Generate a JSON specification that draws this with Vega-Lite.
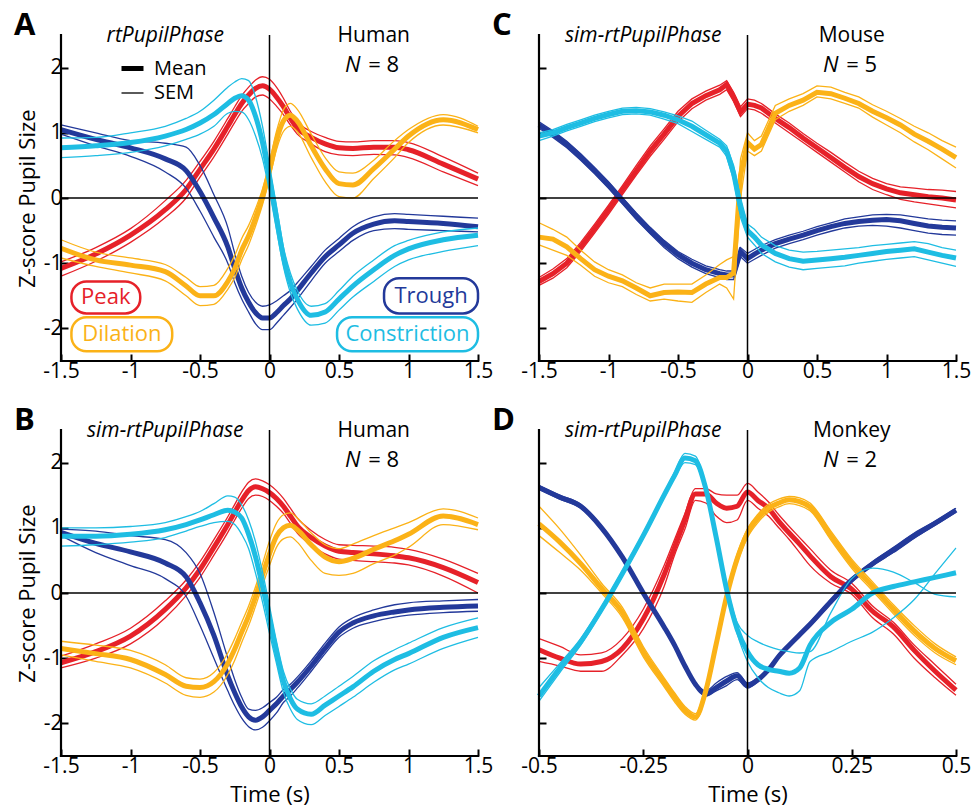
{
"$schema": "https://vega.github.io/schema/vega-lite/v6.json",
"background": "white",
"padding": {"top": 9, "left": 14, "right": 5, "bottom": 5},
"config": {
 "font": "Open Sans",
 "view": {"stroke": null},
 "axis": {"domain": false, "grid": false, "tickColor": "black", "tickWidth": 2, "tickSize": -7, "labelFontSize": 21, "labelColor": "black", "labelPadding": 6, "titleFontSize": 22, "titleFontWeight": "normal", "titleColor": "black", "labelFlush": false, "labelOverlap": false},
 "title": {"fontSize": 31, "fontWeight": "bold", "anchor": "start", "color": "black", "frame": "group"},
 "text": {"color": "black", "fontSize": 22}
},
"data": {"values": [
{"p":"A","ph":"Peak","t":-1.5,"m":-1.08,"hi":-0.98,"lo":-1.2},
{"p":"A","ph":"Peak","t":-1.25,"m":-0.86,"hi":-0.76,"lo":-0.97},
{"p":"A","ph":"Peak","t":-1.0,"m":-0.57,"hi":-0.47,"lo":-0.68},
{"p":"A","ph":"Peak","t":-0.75,"m":-0.18,"hi":-0.04,"lo":-0.3},
{"p":"A","ph":"Peak","t":-0.6,"m":0.13,"hi":0.27,"lo":0.0},
{"p":"A","ph":"Peak","t":-0.5,"m":0.44,"hi":0.56,"lo":0.32},
{"p":"A","ph":"Peak","t":-0.4,"m":0.75,"hi":0.87,"lo":0.63},
{"p":"A","ph":"Peak","t":-0.3,"m":1.1,"hi":1.22,"lo":0.98},
{"p":"A","ph":"Peak","t":-0.25,"m":1.28,"hi":1.4,"lo":1.16},
{"p":"A","ph":"Peak","t":-0.2,"m":1.45,"hi":1.57,"lo":1.33},
{"p":"A","ph":"Peak","t":-0.15,"m":1.58,"hi":1.7,"lo":1.45},
{"p":"A","ph":"Peak","t":-0.1,"m":1.68,"hi":1.81,"lo":1.55},
{"p":"A","ph":"Peak","t":-0.05,"m":1.72,"hi":1.86,"lo":1.58},
{"p":"A","ph":"Peak","t":0,"m":1.67,"hi":1.82,"lo":1.52},
{"p":"A","ph":"Peak","t":0.05,"m":1.55,"hi":1.7,"lo":1.41},
{"p":"A","ph":"Peak","t":0.1,"m":1.4,"hi":1.53,"lo":1.28},
{"p":"A","ph":"Peak","t":0.15,"m":1.22,"hi":1.33,"lo":1.12},
{"p":"A","ph":"Peak","t":0.2,"m":1.07,"hi":1.17,"lo":0.98},
{"p":"A","ph":"Peak","t":0.3,"m":0.93,"hi":1.02,"lo":0.83},
{"p":"A","ph":"Peak","t":0.4,"m":0.83,"hi":0.93,"lo":0.71},
{"p":"A","ph":"Peak","t":0.5,"m":0.77,"hi":0.87,"lo":0.66},
{"p":"A","ph":"Peak","t":0.6,"m":0.76,"hi":0.86,"lo":0.65},
{"p":"A","ph":"Peak","t":0.75,"m":0.78,"hi":0.88,"lo":0.67},
{"p":"A","ph":"Peak","t":0.9,"m":0.78,"hi":0.88,"lo":0.66},
{"p":"A","ph":"Peak","t":1.0,"m":0.74,"hi":0.85,"lo":0.62},
{"p":"A","ph":"Peak","t":1.25,"m":0.52,"hi":0.63,"lo":0.4},
{"p":"A","ph":"Peak","t":1.5,"m":0.29,"hi":0.38,"lo":0.19},
{"p":"A","ph":"Trough","t":-1.5,"m":1.05,"hi":1.12,"lo":0.98},
{"p":"A","ph":"Trough","t":-1.25,"m":0.9,"hi":1.0,"lo":0.8},
{"p":"A","ph":"Trough","t":-1.0,"m":0.77,"hi":0.88,"lo":0.64},
{"p":"A","ph":"Trough","t":-0.75,"m":0.6,"hi":0.84,"lo":0.4},
{"p":"A","ph":"Trough","t":-0.6,"m":0.42,"hi":0.78,"lo":0.15},
{"p":"A","ph":"Trough","t":-0.5,"m":0.1,"hi":0.5,"lo":-0.2},
{"p":"A","ph":"Trough","t":-0.4,"m":-0.3,"hi":0.05,"lo":-0.6},
{"p":"A","ph":"Trough","t":-0.3,"m":-0.75,"hi":-0.45,"lo":-1.0},
{"p":"A","ph":"Trough","t":-0.25,"m":-1.08,"hi":-0.85,"lo":-1.3},
{"p":"A","ph":"Trough","t":-0.2,"m":-1.38,"hi":-1.2,"lo":-1.55},
{"p":"A","ph":"Trough","t":-0.15,"m":-1.6,"hi":-1.45,"lo":-1.75},
{"p":"A","ph":"Trough","t":-0.1,"m":-1.76,"hi":-1.6,"lo":-1.93},
{"p":"A","ph":"Trough","t":-0.05,"m":-1.84,"hi":-1.66,"lo":-2.02},
{"p":"A","ph":"Trough","t":0,"m":-1.84,"hi":-1.64,"lo":-2.02},
{"p":"A","ph":"Trough","t":0.05,"m":-1.76,"hi":-1.58,"lo":-1.92},
{"p":"A","ph":"Trough","t":0.1,"m":-1.65,"hi":-1.5,"lo":-1.8},
{"p":"A","ph":"Trough","t":0.15,"m":-1.55,"hi":-1.42,"lo":-1.68},
{"p":"A","ph":"Trough","t":0.2,"m":-1.42,"hi":-1.3,"lo":-1.55},
{"p":"A","ph":"Trough","t":0.3,"m":-1.15,"hi":-1.05,"lo":-1.27},
{"p":"A","ph":"Trough","t":0.4,"m":-0.9,"hi":-0.8,"lo":-1.0},
{"p":"A","ph":"Trough","t":0.5,"m":-0.72,"hi":-0.62,"lo":-0.82},
{"p":"A","ph":"Trough","t":0.6,"m":-0.54,"hi":-0.44,"lo":-0.65},
{"p":"A","ph":"Trough","t":0.75,"m":-0.4,"hi":-0.29,"lo":-0.5},
{"p":"A","ph":"Trough","t":0.9,"m":-0.35,"hi":-0.24,"lo":-0.47},
{"p":"A","ph":"Trough","t":1.0,"m":-0.36,"hi":-0.25,"lo":-0.48},
{"p":"A","ph":"Trough","t":1.25,"m":-0.39,"hi":-0.28,"lo":-0.5},
{"p":"A","ph":"Trough","t":1.5,"m":-0.44,"hi":-0.31,"lo":-0.52},
{"p":"A","ph":"Dilation","t":-1.5,"m":-0.77,"hi":-0.64,"lo":-0.92},
{"p":"A","ph":"Dilation","t":-1.25,"m":-0.95,"hi":-0.83,"lo":-1.05},
{"p":"A","ph":"Dilation","t":-1.0,"m":-1.03,"hi":-0.92,"lo":-1.15},
{"p":"A","ph":"Dilation","t":-0.75,"m":-1.13,"hi":-1.02,"lo":-1.27},
{"p":"A","ph":"Dilation","t":-0.6,"m":-1.35,"hi":-1.22,"lo":-1.5},
{"p":"A","ph":"Dilation","t":-0.5,"m":-1.5,"hi":-1.36,"lo":-1.65},
{"p":"A","ph":"Dilation","t":-0.4,"m":-1.5,"hi":-1.34,"lo":-1.63},
{"p":"A","ph":"Dilation","t":-0.3,"m":-1.28,"hi":-1.08,"lo":-1.4},
{"p":"A","ph":"Dilation","t":-0.25,"m":-1.08,"hi":-0.88,"lo":-1.22},
{"p":"A","ph":"Dilation","t":-0.2,"m":-0.8,"hi":-0.62,"lo":-0.95},
{"p":"A","ph":"Dilation","t":-0.15,"m":-0.58,"hi":-0.42,"lo":-0.72},
{"p":"A","ph":"Dilation","t":-0.1,"m":-0.3,"hi":-0.16,"lo":-0.43},
{"p":"A","ph":"Dilation","t":-0.05,"m":0.02,"hi":0.14,"lo":-0.1},
{"p":"A","ph":"Dilation","t":0,"m":0.42,"hi":0.55,"lo":0.3},
{"p":"A","ph":"Dilation","t":0.05,"m":0.88,"hi":1.02,"lo":0.74},
{"p":"A","ph":"Dilation","t":0.1,"m":1.18,"hi":1.35,"lo":1.02},
{"p":"A","ph":"Dilation","t":0.15,"m":1.27,"hi":1.45,"lo":1.1},
{"p":"A","ph":"Dilation","t":0.2,"m":1.18,"hi":1.36,"lo":1.02},
{"p":"A","ph":"Dilation","t":0.3,"m":0.8,"hi":0.98,"lo":0.62},
{"p":"A","ph":"Dilation","t":0.4,"m":0.45,"hi":0.62,"lo":0.25},
{"p":"A","ph":"Dilation","t":0.5,"m":0.22,"hi":0.4,"lo":0.02},
{"p":"A","ph":"Dilation","t":0.6,"m":0.2,"hi":0.38,"lo":0.0},
{"p":"A","ph":"Dilation","t":0.75,"m":0.45,"hi":0.58,"lo":0.3},
{"p":"A","ph":"Dilation","t":0.9,"m":0.75,"hi":0.88,"lo":0.62},
{"p":"A","ph":"Dilation","t":1.0,"m":0.95,"hi":1.05,"lo":0.85},
{"p":"A","ph":"Dilation","t":1.25,"m":1.2,"hi":1.28,"lo":1.12},
{"p":"A","ph":"Dilation","t":1.5,"m":1.05,"hi":1.1,"lo":1.0},
{"p":"A","ph":"Constriction","t":-1.5,"m":0.77,"hi":0.92,"lo":0.62},
{"p":"A","ph":"Constriction","t":-1.25,"m":0.8,"hi":0.93,"lo":0.65},
{"p":"A","ph":"Constriction","t":-1.0,"m":0.85,"hi":1.0,"lo":0.7},
{"p":"A","ph":"Constriction","t":-0.75,"m":0.95,"hi":1.1,"lo":0.8},
{"p":"A","ph":"Constriction","t":-0.6,"m":1.05,"hi":1.22,"lo":0.9},
{"p":"A","ph":"Constriction","t":-0.5,"m":1.15,"hi":1.33,"lo":0.98},
{"p":"A","ph":"Constriction","t":-0.4,"m":1.28,"hi":1.5,"lo":1.1},
{"p":"A","ph":"Constriction","t":-0.3,"m":1.45,"hi":1.7,"lo":1.3},
{"p":"A","ph":"Constriction","t":-0.25,"m":1.53,"hi":1.78,"lo":1.33},
{"p":"A","ph":"Constriction","t":-0.2,"m":1.57,"hi":1.83,"lo":1.32},
{"p":"A","ph":"Constriction","t":-0.15,"m":1.5,"hi":1.8,"lo":1.2},
{"p":"A","ph":"Constriction","t":-0.1,"m":1.25,"hi":1.55,"lo":0.95},
{"p":"A","ph":"Constriction","t":-0.05,"m":0.85,"hi":1.1,"lo":0.6},
{"p":"A","ph":"Constriction","t":0,"m":0.3,"hi":0.5,"lo":0.1},
{"p":"A","ph":"Constriction","t":0.05,"m":-0.3,"hi":-0.12,"lo":-0.48},
{"p":"A","ph":"Constriction","t":0.1,"m":-0.9,"hi":-0.75,"lo":-1.05},
{"p":"A","ph":"Constriction","t":0.15,"m":-1.3,"hi":-1.15,"lo":-1.45},
{"p":"A","ph":"Constriction","t":0.2,"m":-1.55,"hi":-1.42,"lo":-1.7},
{"p":"A","ph":"Constriction","t":0.3,"m":-1.8,"hi":-1.66,"lo":-1.95},
{"p":"A","ph":"Constriction","t":0.4,"m":-1.75,"hi":-1.62,"lo":-1.92},
{"p":"A","ph":"Constriction","t":0.5,"m":-1.55,"hi":-1.42,"lo":-1.72},
{"p":"A","ph":"Constriction","t":0.6,"m":-1.35,"hi":-1.2,"lo":-1.52},
{"p":"A","ph":"Constriction","t":0.75,"m":-1.1,"hi":-0.95,"lo":-1.28},
{"p":"A","ph":"Constriction","t":0.9,"m":-0.88,"hi":-0.73,"lo":-1.05},
{"p":"A","ph":"Constriction","t":1.0,"m":-0.78,"hi":-0.65,"lo":-0.95},
{"p":"A","ph":"Constriction","t":1.25,"m":-0.64,"hi":-0.52,"lo":-0.82},
{"p":"A","ph":"Constriction","t":1.5,"m":-0.57,"hi":-0.46,"lo":-0.73},
{"p":"B","ph":"Peak","t":-1.5,"m":-1.07,"hi":-0.97,"lo":-1.15},
{"p":"B","ph":"Peak","t":-1.25,"m":-0.9,"hi":-0.78,"lo":-1.0},
{"p":"B","ph":"Peak","t":-1.0,"m":-0.66,"hi":-0.54,"lo":-0.78},
{"p":"B","ph":"Peak","t":-0.75,"m":-0.25,"hi":-0.12,"lo":-0.38},
{"p":"B","ph":"Peak","t":-0.6,"m":0.08,"hi":0.2,"lo":-0.04},
{"p":"B","ph":"Peak","t":-0.5,"m":0.36,"hi":0.48,"lo":0.24},
{"p":"B","ph":"Peak","t":-0.4,"m":0.7,"hi":0.82,"lo":0.58},
{"p":"B","ph":"Peak","t":-0.3,"m":1.05,"hi":1.17,"lo":0.93},
{"p":"B","ph":"Peak","t":-0.25,"m":1.24,"hi":1.36,"lo":1.12},
{"p":"B","ph":"Peak","t":-0.2,"m":1.42,"hi":1.55,"lo":1.3},
{"p":"B","ph":"Peak","t":-0.15,"m":1.57,"hi":1.7,"lo":1.45},
{"p":"B","ph":"Peak","t":-0.1,"m":1.63,"hi":1.75,"lo":1.5},
{"p":"B","ph":"Peak","t":-0.05,"m":1.6,"hi":1.72,"lo":1.48},
{"p":"B","ph":"Peak","t":0,"m":1.54,"hi":1.66,"lo":1.42},
{"p":"B","ph":"Peak","t":0.05,"m":1.45,"hi":1.57,"lo":1.33},
{"p":"B","ph":"Peak","t":0.1,"m":1.33,"hi":1.45,"lo":1.22},
{"p":"B","ph":"Peak","t":0.15,"m":1.18,"hi":1.3,"lo":1.07},
{"p":"B","ph":"Peak","t":0.2,"m":1.03,"hi":1.15,"lo":0.92},
{"p":"B","ph":"Peak","t":0.3,"m":0.85,"hi":0.96,"lo":0.74},
{"p":"B","ph":"Peak","t":0.4,"m":0.72,"hi":0.82,"lo":0.6},
{"p":"B","ph":"Peak","t":0.5,"m":0.64,"hi":0.74,"lo":0.52},
{"p":"B","ph":"Peak","t":0.6,"m":0.62,"hi":0.73,"lo":0.5},
{"p":"B","ph":"Peak","t":0.75,"m":0.6,"hi":0.72,"lo":0.48},
{"p":"B","ph":"Peak","t":0.9,"m":0.57,"hi":0.7,"lo":0.46},
{"p":"B","ph":"Peak","t":1.0,"m":0.54,"hi":0.67,"lo":0.43},
{"p":"B","ph":"Peak","t":1.25,"m":0.39,"hi":0.52,"lo":0.26},
{"p":"B","ph":"Peak","t":1.5,"m":0.16,"hi":0.3,"lo":0.0},
{"p":"B","ph":"Trough","t":-1.5,"m":0.93,"hi":0.98,"lo":0.88},
{"p":"B","ph":"Trough","t":-1.25,"m":0.76,"hi":0.95,"lo":0.62},
{"p":"B","ph":"Trough","t":-1.0,"m":0.63,"hi":0.88,"lo":0.42},
{"p":"B","ph":"Trough","t":-0.75,"m":0.46,"hi":0.82,"lo":0.22},
{"p":"B","ph":"Trough","t":-0.6,"m":0.25,"hi":0.62,"lo":-0.05},
{"p":"B","ph":"Trough","t":-0.5,"m":-0.15,"hi":0.3,"lo":-0.5},
{"p":"B","ph":"Trough","t":-0.4,"m":-0.65,"hi":-0.3,"lo":-1.0},
{"p":"B","ph":"Trough","t":-0.3,"m":-1.27,"hi":-1.0,"lo":-1.5},
{"p":"B","ph":"Trough","t":-0.25,"m":-1.53,"hi":-1.33,"lo":-1.73},
{"p":"B","ph":"Trough","t":-0.2,"m":-1.75,"hi":-1.6,"lo":-1.92},
{"p":"B","ph":"Trough","t":-0.15,"m":-1.9,"hi":-1.78,"lo":-2.05},
{"p":"B","ph":"Trough","t":-0.1,"m":-1.95,"hi":-1.8,"lo":-2.1},
{"p":"B","ph":"Trough","t":-0.05,"m":-1.9,"hi":-1.76,"lo":-2.06},
{"p":"B","ph":"Trough","t":0,"m":-1.8,"hi":-1.68,"lo":-1.96},
{"p":"B","ph":"Trough","t":0.05,"m":-1.7,"hi":-1.6,"lo":-1.84},
{"p":"B","ph":"Trough","t":0.1,"m":-1.58,"hi":-1.48,"lo":-1.68},
{"p":"B","ph":"Trough","t":0.15,"m":-1.48,"hi":-1.4,"lo":-1.58},
{"p":"B","ph":"Trough","t":0.2,"m":-1.37,"hi":-1.29,"lo":-1.46},
{"p":"B","ph":"Trough","t":0.3,"m":-1.12,"hi":-1.04,"lo":-1.2},
{"p":"B","ph":"Trough","t":0.4,"m":-0.85,"hi":-0.77,"lo":-0.93},
{"p":"B","ph":"Trough","t":0.5,"m":-0.6,"hi":-0.52,"lo":-0.68},
{"p":"B","ph":"Trough","t":0.6,"m":-0.46,"hi":-0.38,"lo":-0.54},
{"p":"B","ph":"Trough","t":0.75,"m":-0.35,"hi":-0.26,"lo":-0.44},
{"p":"B","ph":"Trough","t":0.9,"m":-0.29,"hi":-0.18,"lo":-0.37},
{"p":"B","ph":"Trough","t":1.0,"m":-0.26,"hi":-0.15,"lo":-0.34},
{"p":"B","ph":"Trough","t":1.25,"m":-0.22,"hi":-0.12,"lo":-0.3},
{"p":"B","ph":"Trough","t":1.5,"m":-0.2,"hi":-0.1,"lo":-0.28},
{"p":"B","ph":"Dilation","t":-1.5,"m":-0.85,"hi":-0.74,"lo":-0.95},
{"p":"B","ph":"Dilation","t":-1.25,"m":-0.93,"hi":-0.8,"lo":-1.05},
{"p":"B","ph":"Dilation","t":-1.0,"m":-1.02,"hi":-0.88,"lo":-1.15},
{"p":"B","ph":"Dilation","t":-0.75,"m":-1.25,"hi":-1.1,"lo":-1.38},
{"p":"B","ph":"Dilation","t":-0.6,"m":-1.43,"hi":-1.3,"lo":-1.57},
{"p":"B","ph":"Dilation","t":-0.5,"m":-1.45,"hi":-1.32,"lo":-1.6},
{"p":"B","ph":"Dilation","t":-0.4,"m":-1.36,"hi":-1.22,"lo":-1.52},
{"p":"B","ph":"Dilation","t":-0.3,"m":-1.08,"hi":-0.92,"lo":-1.25},
{"p":"B","ph":"Dilation","t":-0.25,"m":-0.86,"hi":-0.7,"lo":-1.03},
{"p":"B","ph":"Dilation","t":-0.2,"m":-0.6,"hi":-0.45,"lo":-0.76},
{"p":"B","ph":"Dilation","t":-0.15,"m":-0.35,"hi":-0.2,"lo":-0.5},
{"p":"B","ph":"Dilation","t":-0.1,"m":-0.05,"hi":0.1,"lo":-0.2},
{"p":"B","ph":"Dilation","t":-0.05,"m":0.28,"hi":0.45,"lo":0.12},
{"p":"B","ph":"Dilation","t":0,"m":0.6,"hi":0.8,"lo":0.42},
{"p":"B","ph":"Dilation","t":0.05,"m":0.87,"hi":1.07,"lo":0.7},
{"p":"B","ph":"Dilation","t":0.1,"m":1.0,"hi":1.2,"lo":0.83},
{"p":"B","ph":"Dilation","t":0.15,"m":1.04,"hi":1.23,"lo":0.86},
{"p":"B","ph":"Dilation","t":0.2,"m":0.97,"hi":1.15,"lo":0.78},
{"p":"B","ph":"Dilation","t":0.3,"m":0.74,"hi":0.92,"lo":0.5},
{"p":"B","ph":"Dilation","t":0.4,"m":0.55,"hi":0.74,"lo":0.3},
{"p":"B","ph":"Dilation","t":0.5,"m":0.48,"hi":0.68,"lo":0.27},
{"p":"B","ph":"Dilation","t":0.6,"m":0.53,"hi":0.75,"lo":0.3},
{"p":"B","ph":"Dilation","t":0.75,"m":0.67,"hi":0.88,"lo":0.45},
{"p":"B","ph":"Dilation","t":0.9,"m":0.8,"hi":1.0,"lo":0.58},
{"p":"B","ph":"Dilation","t":1.0,"m":0.9,"hi":1.08,"lo":0.7},
{"p":"B","ph":"Dilation","t":1.25,"m":1.18,"hi":1.29,"lo":1.05},
{"p":"B","ph":"Dilation","t":1.5,"m":1.05,"hi":1.15,"lo":0.97},
{"p":"B","ph":"Constriction","t":-1.5,"m":0.87,"hi":1.0,"lo":0.72},
{"p":"B","ph":"Constriction","t":-1.25,"m":0.87,"hi":1.0,"lo":0.74},
{"p":"B","ph":"Constriction","t":-1.0,"m":0.9,"hi":1.02,"lo":0.78},
{"p":"B","ph":"Constriction","t":-0.75,"m":0.97,"hi":1.08,"lo":0.85},
{"p":"B","ph":"Constriction","t":-0.6,"m":1.05,"hi":1.17,"lo":0.95},
{"p":"B","ph":"Constriction","t":-0.5,"m":1.12,"hi":1.25,"lo":1.02},
{"p":"B","ph":"Constriction","t":-0.4,"m":1.2,"hi":1.37,"lo":1.08},
{"p":"B","ph":"Constriction","t":-0.3,"m":1.27,"hi":1.49,"lo":1.1},
{"p":"B","ph":"Constriction","t":-0.25,"m":1.24,"hi":1.47,"lo":1.05},
{"p":"B","ph":"Constriction","t":-0.2,"m":1.15,"hi":1.35,"lo":0.9},
{"p":"B","ph":"Constriction","t":-0.15,"m":0.9,"hi":1.12,"lo":0.68},
{"p":"B","ph":"Constriction","t":-0.1,"m":0.55,"hi":0.78,"lo":0.3},
{"p":"B","ph":"Constriction","t":-0.05,"m":0.1,"hi":0.32,"lo":-0.14},
{"p":"B","ph":"Constriction","t":0,"m":-0.4,"hi":-0.2,"lo":-0.62},
{"p":"B","ph":"Constriction","t":0.05,"m":-0.9,"hi":-0.74,"lo":-1.08},
{"p":"B","ph":"Constriction","t":0.1,"m":-1.35,"hi":-1.2,"lo":-1.52},
{"p":"B","ph":"Constriction","t":0.15,"m":-1.62,"hi":-1.47,"lo":-1.78},
{"p":"B","ph":"Constriction","t":0.2,"m":-1.78,"hi":-1.63,"lo":-1.94},
{"p":"B","ph":"Constriction","t":0.3,"m":-1.86,"hi":-1.7,"lo":-2.02},
{"p":"B","ph":"Constriction","t":0.4,"m":-1.72,"hi":-1.58,"lo":-1.88},
{"p":"B","ph":"Constriction","t":0.5,"m":-1.58,"hi":-1.43,"lo":-1.74},
{"p":"B","ph":"Constriction","t":0.6,"m":-1.44,"hi":-1.28,"lo":-1.6},
{"p":"B","ph":"Constriction","t":0.75,"m":-1.2,"hi":-1.04,"lo":-1.37},
{"p":"B","ph":"Constriction","t":0.9,"m":-1.02,"hi":-0.87,"lo":-1.18},
{"p":"B","ph":"Constriction","t":1.0,"m":-0.93,"hi":-0.77,"lo":-1.09},
{"p":"B","ph":"Constriction","t":1.25,"m":-0.68,"hi":-0.53,"lo":-0.85},
{"p":"B","ph":"Constriction","t":1.5,"m":-0.53,"hi":-0.38,"lo":-0.68},
{"p":"C","ph":"Peak","t":-1.5,"m":-1.28,"hi":-1.22,"lo":-1.34},
{"p":"C","ph":"Peak","t":-1.4,"m":-1.16,"hi":-1.09,"lo":-1.23},
{"p":"C","ph":"Peak","t":-1.3,"m":-1.0,"hi":-0.93,"lo":-1.07},
{"p":"C","ph":"Peak","t":-1.2,"m":-0.75,"hi":-0.68,"lo":-0.82},
{"p":"C","ph":"Peak","t":-1.1,"m":-0.47,"hi":-0.4,"lo":-0.54},
{"p":"C","ph":"Peak","t":-1.0,"m":-0.18,"hi":-0.11,"lo":-0.25},
{"p":"C","ph":"Peak","t":-0.9,"m":0.12,"hi":0.19,"lo":0.05},
{"p":"C","ph":"Peak","t":-0.8,"m":0.42,"hi":0.5,"lo":0.35},
{"p":"C","ph":"Peak","t":-0.7,"m":0.72,"hi":0.8,"lo":0.64},
{"p":"C","ph":"Peak","t":-0.6,"m":0.98,"hi":1.06,"lo":0.9},
{"p":"C","ph":"Peak","t":-0.5,"m":1.25,"hi":1.33,"lo":1.17},
{"p":"C","ph":"Peak","t":-0.4,"m":1.45,"hi":1.52,"lo":1.37},
{"p":"C","ph":"Peak","t":-0.3,"m":1.57,"hi":1.64,"lo":1.5},
{"p":"C","ph":"Peak","t":-0.2,"m":1.66,"hi":1.73,"lo":1.59},
{"p":"C","ph":"Peak","t":-0.15,"m":1.74,"hi":1.8,"lo":1.66},
{"p":"C","ph":"Peak","t":-0.1,"m":1.55,"hi":1.62,"lo":1.48},
{"p":"C","ph":"Peak","t":-0.05,"m":1.32,"hi":1.4,"lo":1.25},
{"p":"C","ph":"Peak","t":0,"m":1.44,"hi":1.52,"lo":1.37},
{"p":"C","ph":"Peak","t":0.05,"m":1.42,"hi":1.5,"lo":1.35},
{"p":"C","ph":"Peak","t":0.1,"m":1.38,"hi":1.45,"lo":1.3},
{"p":"C","ph":"Peak","t":0.2,"m":1.22,"hi":1.29,"lo":1.15},
{"p":"C","ph":"Peak","t":0.3,"m":1.08,"hi":1.15,"lo":1.0},
{"p":"C","ph":"Peak","t":0.4,"m":0.92,"hi":0.99,"lo":0.85},
{"p":"C","ph":"Peak","t":0.5,"m":0.77,"hi":0.84,"lo":0.7},
{"p":"C","ph":"Peak","t":0.6,"m":0.62,"hi":0.7,"lo":0.55},
{"p":"C","ph":"Peak","t":0.7,"m":0.47,"hi":0.55,"lo":0.4},
{"p":"C","ph":"Peak","t":0.8,"m":0.33,"hi":0.41,"lo":0.25},
{"p":"C","ph":"Peak","t":0.9,"m":0.22,"hi":0.3,"lo":0.13},
{"p":"C","ph":"Peak","t":1.0,"m":0.14,"hi":0.22,"lo":0.05},
{"p":"C","ph":"Peak","t":1.1,"m":0.08,"hi":0.17,"lo":-0.02},
{"p":"C","ph":"Peak","t":1.2,"m":0.05,"hi":0.15,"lo":-0.06},
{"p":"C","ph":"Peak","t":1.3,"m":0.02,"hi":0.13,"lo":-0.09},
{"p":"C","ph":"Peak","t":1.4,"m":0.0,"hi":0.12,"lo":-0.12},
{"p":"C","ph":"Peak","t":1.5,"m":-0.03,"hi":0.1,"lo":-0.15},
{"p":"C","ph":"Trough","t":-1.5,"m":1.12,"hi":1.17,"lo":1.07},
{"p":"C","ph":"Trough","t":-1.4,"m":0.98,"hi":1.03,"lo":0.93},
{"p":"C","ph":"Trough","t":-1.3,"m":0.82,"hi":0.87,"lo":0.77},
{"p":"C","ph":"Trough","t":-1.2,"m":0.63,"hi":0.68,"lo":0.58},
{"p":"C","ph":"Trough","t":-1.1,"m":0.42,"hi":0.47,"lo":0.37},
{"p":"C","ph":"Trough","t":-1.0,"m":0.2,"hi":0.25,"lo":0.15},
{"p":"C","ph":"Trough","t":-0.9,"m":-0.04,"hi":0.01,"lo":-0.09},
{"p":"C","ph":"Trough","t":-0.8,"m":-0.28,"hi":-0.23,"lo":-0.33},
{"p":"C","ph":"Trough","t":-0.7,"m":-0.5,"hi":-0.45,"lo":-0.55},
{"p":"C","ph":"Trough","t":-0.6,"m":-0.7,"hi":-0.65,"lo":-0.76},
{"p":"C","ph":"Trough","t":-0.5,"m":-0.87,"hi":-0.82,"lo":-0.93},
{"p":"C","ph":"Trough","t":-0.4,"m":-1.0,"hi":-0.94,"lo":-1.06},
{"p":"C","ph":"Trough","t":-0.3,"m":-1.1,"hi":-1.04,"lo":-1.16},
{"p":"C","ph":"Trough","t":-0.2,"m":-1.16,"hi":-1.1,"lo":-1.22},
{"p":"C","ph":"Trough","t":-0.15,"m":-1.18,"hi":-1.12,"lo":-1.25},
{"p":"C","ph":"Trough","t":-0.1,"m":-1.18,"hi":-1.12,"lo":-1.25},
{"p":"C","ph":"Trough","t":-0.05,"m":-0.82,"hi":-0.76,"lo":-0.9},
{"p":"C","ph":"Trough","t":0,"m":-0.93,"hi":-0.85,"lo":-1.0},
{"p":"C","ph":"Trough","t":0.05,"m":-0.86,"hi":-0.79,"lo":-0.94},
{"p":"C","ph":"Trough","t":0.1,"m":-0.8,"hi":-0.73,"lo":-0.88},
{"p":"C","ph":"Trough","t":0.2,"m":-0.7,"hi":-0.64,"lo":-0.77},
{"p":"C","ph":"Trough","t":0.3,"m":-0.63,"hi":-0.57,"lo":-0.7},
{"p":"C","ph":"Trough","t":0.4,"m":-0.57,"hi":-0.51,"lo":-0.64},
{"p":"C","ph":"Trough","t":0.5,"m":-0.5,"hi":-0.44,"lo":-0.57},
{"p":"C","ph":"Trough","t":0.6,"m":-0.44,"hi":-0.38,"lo":-0.51},
{"p":"C","ph":"Trough","t":0.7,"m":-0.39,"hi":-0.32,"lo":-0.46},
{"p":"C","ph":"Trough","t":0.8,"m":-0.36,"hi":-0.29,"lo":-0.43},
{"p":"C","ph":"Trough","t":0.9,"m":-0.34,"hi":-0.26,"lo":-0.42},
{"p":"C","ph":"Trough","t":1.0,"m":-0.33,"hi":-0.25,"lo":-0.43},
{"p":"C","ph":"Trough","t":1.1,"m":-0.35,"hi":-0.26,"lo":-0.46},
{"p":"C","ph":"Trough","t":1.2,"m":-0.39,"hi":-0.29,"lo":-0.5},
{"p":"C","ph":"Trough","t":1.3,"m":-0.43,"hi":-0.32,"lo":-0.54},
{"p":"C","ph":"Trough","t":1.4,"m":-0.45,"hi":-0.34,"lo":-0.56},
{"p":"C","ph":"Trough","t":1.5,"m":-0.46,"hi":-0.35,"lo":-0.57},
{"p":"C","ph":"Dilation","t":-1.5,"m":-0.6,"hi":-0.38,"lo":-0.72},
{"p":"C","ph":"Dilation","t":-1.4,"m":-0.63,"hi":-0.48,"lo":-0.8},
{"p":"C","ph":"Dilation","t":-1.3,"m":-0.75,"hi":-0.6,"lo":-0.88},
{"p":"C","ph":"Dilation","t":-1.2,"m":-0.93,"hi":-0.8,"lo":-1.03},
{"p":"C","ph":"Dilation","t":-1.1,"m":-1.1,"hi":-0.98,"lo":-1.2},
{"p":"C","ph":"Dilation","t":-1.0,"m":-1.2,"hi":-1.1,"lo":-1.3},
{"p":"C","ph":"Dilation","t":-0.9,"m":-1.27,"hi":-1.18,"lo":-1.36},
{"p":"C","ph":"Dilation","t":-0.8,"m":-1.38,"hi":-1.3,"lo":-1.48},
{"p":"C","ph":"Dilation","t":-0.7,"m":-1.5,"hi":-1.38,"lo":-1.58},
{"p":"C","ph":"Dilation","t":-0.6,"m":-1.45,"hi":-1.32,"lo":-1.55},
{"p":"C","ph":"Dilation","t":-0.5,"m":-1.44,"hi":-1.32,"lo":-1.58},
{"p":"C","ph":"Dilation","t":-0.4,"m":-1.45,"hi":-1.32,"lo":-1.6},
{"p":"C","ph":"Dilation","t":-0.3,"m":-1.32,"hi":-1.18,"lo":-1.45},
{"p":"C","ph":"Dilation","t":-0.2,"m":-1.22,"hi":-1.02,"lo":-1.32},
{"p":"C","ph":"Dilation","t":-0.15,"m":-1.22,"hi":-0.95,"lo":-1.38},
{"p":"C","ph":"Dilation","t":-0.1,"m":-1.15,"hi":-0.9,"lo":-1.55},
{"p":"C","ph":"Dilation","t":-0.05,"m":0.35,"hi":0.6,"lo":0.0},
{"p":"C","ph":"Dilation","t":0,"m":0.85,"hi":1.0,"lo":0.72},
{"p":"C","ph":"Dilation","t":0.05,"m":0.75,"hi":0.88,"lo":0.65},
{"p":"C","ph":"Dilation","t":0.1,"m":0.82,"hi":0.95,"lo":0.72},
{"p":"C","ph":"Dilation","t":0.2,"m":1.3,"hi":1.42,"lo":1.2},
{"p":"C","ph":"Dilation","t":0.3,"m":1.42,"hi":1.52,"lo":1.33},
{"p":"C","ph":"Dilation","t":0.4,"m":1.5,"hi":1.6,"lo":1.42},
{"p":"C","ph":"Dilation","t":0.5,"m":1.62,"hi":1.72,"lo":1.55},
{"p":"C","ph":"Dilation","t":0.6,"m":1.6,"hi":1.7,"lo":1.52},
{"p":"C","ph":"Dilation","t":0.7,"m":1.53,"hi":1.62,"lo":1.45},
{"p":"C","ph":"Dilation","t":0.8,"m":1.45,"hi":1.55,"lo":1.38},
{"p":"C","ph":"Dilation","t":0.9,"m":1.33,"hi":1.43,"lo":1.24},
{"p":"C","ph":"Dilation","t":1.0,"m":1.23,"hi":1.33,"lo":1.12},
{"p":"C","ph":"Dilation","t":1.1,"m":1.12,"hi":1.22,"lo":1.0},
{"p":"C","ph":"Dilation","t":1.2,"m":0.98,"hi":1.1,"lo":0.86},
{"p":"C","ph":"Dilation","t":1.3,"m":0.87,"hi":1.0,"lo":0.74},
{"p":"C","ph":"Dilation","t":1.4,"m":0.75,"hi":0.88,"lo":0.6},
{"p":"C","ph":"Dilation","t":1.5,"m":0.62,"hi":0.78,"lo":0.46},
{"p":"C","ph":"Constriction","t":-1.5,"m":0.95,"hi":1.0,"lo":0.88},
{"p":"C","ph":"Constriction","t":-1.4,"m":1.0,"hi":1.05,"lo":0.95},
{"p":"C","ph":"Constriction","t":-1.3,"m":1.08,"hi":1.13,"lo":1.03},
{"p":"C","ph":"Constriction","t":-1.2,"m":1.15,"hi":1.2,"lo":1.1},
{"p":"C","ph":"Constriction","t":-1.1,"m":1.22,"hi":1.27,"lo":1.17},
{"p":"C","ph":"Constriction","t":-1.0,"m":1.28,"hi":1.33,"lo":1.23},
{"p":"C","ph":"Constriction","t":-0.9,"m":1.33,"hi":1.38,"lo":1.28},
{"p":"C","ph":"Constriction","t":-0.8,"m":1.34,"hi":1.39,"lo":1.29},
{"p":"C","ph":"Constriction","t":-0.7,"m":1.32,"hi":1.37,"lo":1.27},
{"p":"C","ph":"Constriction","t":-0.6,"m":1.27,"hi":1.32,"lo":1.21},
{"p":"C","ph":"Constriction","t":-0.5,"m":1.2,"hi":1.26,"lo":1.14},
{"p":"C","ph":"Constriction","t":-0.4,"m":1.1,"hi":1.18,"lo":1.02},
{"p":"C","ph":"Constriction","t":-0.3,"m":0.97,"hi":1.04,"lo":0.9},
{"p":"C","ph":"Constriction","t":-0.2,"m":0.84,"hi":0.9,"lo":0.78},
{"p":"C","ph":"Constriction","t":-0.15,"m":0.72,"hi":0.8,"lo":0.64},
{"p":"C","ph":"Constriction","t":-0.1,"m":0.38,"hi":0.5,"lo":0.28},
{"p":"C","ph":"Constriction","t":-0.05,"m":-0.15,"hi":0.0,"lo":-0.3},
{"p":"C","ph":"Constriction","t":0,"m":-0.5,"hi":-0.4,"lo":-0.6},
{"p":"C","ph":"Constriction","t":0.05,"m":-0.6,"hi":-0.48,"lo":-0.72},
{"p":"C","ph":"Constriction","t":0.1,"m":-0.72,"hi":-0.6,"lo":-0.85},
{"p":"C","ph":"Constriction","t":0.2,"m":-0.85,"hi":-0.73,"lo":-0.98},
{"p":"C","ph":"Constriction","t":0.3,"m":-0.93,"hi":-0.8,"lo":-1.06},
{"p":"C","ph":"Constriction","t":0.4,"m":-0.97,"hi":-0.83,"lo":-1.1},
{"p":"C","ph":"Constriction","t":0.5,"m":-0.95,"hi":-0.82,"lo":-1.08},
{"p":"C","ph":"Constriction","t":0.6,"m":-0.93,"hi":-0.8,"lo":-1.06},
{"p":"C","ph":"Constriction","t":0.7,"m":-0.91,"hi":-0.78,"lo":-1.04},
{"p":"C","ph":"Constriction","t":0.8,"m":-0.88,"hi":-0.76,"lo":-1.0},
{"p":"C","ph":"Constriction","t":0.9,"m":-0.85,"hi":-0.73,"lo":-0.97},
{"p":"C","ph":"Constriction","t":1.0,"m":-0.82,"hi":-0.71,"lo":-0.94},
{"p":"C","ph":"Constriction","t":1.1,"m":-0.8,"hi":-0.69,"lo":-0.92},
{"p":"C","ph":"Constriction","t":1.2,"m":-0.78,"hi":-0.67,"lo":-0.9},
{"p":"C","ph":"Constriction","t":1.3,"m":-0.83,"hi":-0.7,"lo":-0.95},
{"p":"C","ph":"Constriction","t":1.4,"m":-0.88,"hi":-0.76,"lo":-1.0},
{"p":"C","ph":"Constriction","t":1.5,"m":-0.92,"hi":-0.8,"lo":-1.05},
{"p":"D","ph":"Peak","t":-0.5,"m":-0.87,"hi":-0.7,"lo":-1.05},
{"p":"D","ph":"Peak","t":-0.45,"m":-1.0,"hi":-0.82,"lo":-1.12},
{"p":"D","ph":"Peak","t":-0.4,"m":-1.09,"hi":-0.95,"lo":-1.2},
{"p":"D","ph":"Peak","t":-0.35,"m":-1.05,"hi":-0.92,"lo":-1.2},
{"p":"D","ph":"Peak","t":-0.3,"m":-0.85,"hi":-0.7,"lo":-0.95},
{"p":"D","ph":"Peak","t":-0.25,"m":-0.4,"hi":-0.25,"lo":-0.55},
{"p":"D","ph":"Peak","t":-0.2,"m":0.28,"hi":0.42,"lo":0.1},
{"p":"D","ph":"Peak","t":-0.175,"m":0.7,"hi":0.82,"lo":0.58},
{"p":"D","ph":"Peak","t":-0.15,"m":1.12,"hi":1.22,"lo":0.98},
{"p":"D","ph":"Peak","t":-0.125,"m":1.52,"hi":1.6,"lo":1.42},
{"p":"D","ph":"Peak","t":-0.1,"m":1.52,"hi":1.6,"lo":1.38},
{"p":"D","ph":"Peak","t":-0.075,"m":1.38,"hi":1.52,"lo":1.18},
{"p":"D","ph":"Peak","t":-0.05,"m":1.3,"hi":1.5,"lo":1.08},
{"p":"D","ph":"Peak","t":-0.025,"m":1.33,"hi":1.5,"lo":1.12},
{"p":"D","ph":"Peak","t":0,"m":1.55,"hi":1.68,"lo":1.42},
{"p":"D","ph":"Peak","t":0.025,"m":1.42,"hi":1.55,"lo":1.3},
{"p":"D","ph":"Peak","t":0.05,"m":1.3,"hi":1.4,"lo":1.18},
{"p":"D","ph":"Peak","t":0.075,"m":1.1,"hi":1.2,"lo":1.0},
{"p":"D","ph":"Peak","t":0.1,"m":0.92,"hi":1.02,"lo":0.82},
{"p":"D","ph":"Peak","t":0.125,"m":0.75,"hi":0.85,"lo":0.62},
{"p":"D","ph":"Peak","t":0.15,"m":0.57,"hi":0.68,"lo":0.42},
{"p":"D","ph":"Peak","t":0.2,"m":0.25,"hi":0.35,"lo":0.15},
{"p":"D","ph":"Peak","t":0.25,"m":0.06,"hi":0.15,"lo":-0.02},
{"p":"D","ph":"Peak","t":0.3,"m":-0.28,"hi":-0.2,"lo":-0.38},
{"p":"D","ph":"Peak","t":0.35,"m":-0.52,"hi":-0.45,"lo":-0.63},
{"p":"D","ph":"Peak","t":0.4,"m":-0.88,"hi":-0.8,"lo":-1.0},
{"p":"D","ph":"Peak","t":0.45,"m":-1.2,"hi":-1.1,"lo":-1.3},
{"p":"D","ph":"Peak","t":0.5,"m":-1.49,"hi":-1.4,"lo":-1.57},
{"p":"D","ph":"Trough","t":-0.5,"m":1.62,"hi":1.65,"lo":1.59},
{"p":"D","ph":"Trough","t":-0.45,"m":1.47,"hi":1.5,"lo":1.44},
{"p":"D","ph":"Trough","t":-0.4,"m":1.33,"hi":1.36,"lo":1.3},
{"p":"D","ph":"Trough","t":-0.35,"m":1.0,"hi":1.03,"lo":0.97},
{"p":"D","ph":"Trough","t":-0.3,"m":0.55,"hi":0.58,"lo":0.52},
{"p":"D","ph":"Trough","t":-0.25,"m":0.0,"hi":0.03,"lo":-0.03},
{"p":"D","ph":"Trough","t":-0.2,"m":-0.52,"hi":-0.49,"lo":-0.55},
{"p":"D","ph":"Trough","t":-0.175,"m":-0.8,"hi":-0.77,"lo":-0.83},
{"p":"D","ph":"Trough","t":-0.15,"m":-1.12,"hi":-1.09,"lo":-1.15},
{"p":"D","ph":"Trough","t":-0.125,"m":-1.4,"hi":-1.37,"lo":-1.43},
{"p":"D","ph":"Trough","t":-0.1,"m":-1.55,"hi":-1.5,"lo":-1.58},
{"p":"D","ph":"Trough","t":-0.075,"m":-1.45,"hi":-1.38,"lo":-1.5},
{"p":"D","ph":"Trough","t":-0.05,"m":-1.35,"hi":-1.28,"lo":-1.42},
{"p":"D","ph":"Trough","t":-0.025,"m":-1.27,"hi":-1.22,"lo":-1.33},
{"p":"D","ph":"Trough","t":0,"m":-1.42,"hi":-1.38,"lo":-1.46},
{"p":"D","ph":"Trough","t":0.025,"m":-1.33,"hi":-1.3,"lo":-1.36},
{"p":"D","ph":"Trough","t":0.05,"m":-1.18,"hi":-1.15,"lo":-1.21},
{"p":"D","ph":"Trough","t":0.075,"m":-0.97,"hi":-0.94,"lo":-1.0},
{"p":"D","ph":"Trough","t":0.1,"m":-0.8,"hi":-0.77,"lo":-0.83},
{"p":"D","ph":"Trough","t":0.125,"m":-0.64,"hi":-0.61,"lo":-0.67},
{"p":"D","ph":"Trough","t":0.15,"m":-0.48,"hi":-0.45,"lo":-0.51},
{"p":"D","ph":"Trough","t":0.2,"m":-0.13,"hi":-0.1,"lo":-0.16},
{"p":"D","ph":"Trough","t":0.25,"m":0.2,"hi":0.23,"lo":0.17},
{"p":"D","ph":"Trough","t":0.3,"m":0.45,"hi":0.48,"lo":0.42},
{"p":"D","ph":"Trough","t":0.35,"m":0.66,"hi":0.7,"lo":0.62},
{"p":"D","ph":"Trough","t":0.4,"m":0.88,"hi":0.92,"lo":0.84},
{"p":"D","ph":"Trough","t":0.45,"m":1.07,"hi":1.1,"lo":1.04},
{"p":"D","ph":"Trough","t":0.5,"m":1.27,"hi":1.3,"lo":1.24},
{"p":"D","ph":"Dilation","t":-0.5,"m":1.06,"hi":1.33,"lo":0.88},
{"p":"D","ph":"Dilation","t":-0.45,"m":0.78,"hi":0.98,"lo":0.62},
{"p":"D","ph":"Dilation","t":-0.4,"m":0.45,"hi":0.58,"lo":0.35},
{"p":"D","ph":"Dilation","t":-0.35,"m":0.07,"hi":0.15,"lo":0.0},
{"p":"D","ph":"Dilation","t":-0.3,"m":-0.3,"hi":-0.22,"lo":-0.38},
{"p":"D","ph":"Dilation","t":-0.25,"m":-0.9,"hi":-0.82,"lo":-0.98},
{"p":"D","ph":"Dilation","t":-0.2,"m":-1.37,"hi":-1.3,"lo":-1.44},
{"p":"D","ph":"Dilation","t":-0.175,"m":-1.6,"hi":-1.53,"lo":-1.67},
{"p":"D","ph":"Dilation","t":-0.15,"m":-1.8,"hi":-1.74,"lo":-1.86},
{"p":"D","ph":"Dilation","t":-0.125,"m":-1.9,"hi":-1.85,"lo":-1.95},
{"p":"D","ph":"Dilation","t":-0.1,"m":-1.5,"hi":-1.43,"lo":-1.57},
{"p":"D","ph":"Dilation","t":-0.075,"m":-0.78,"hi":-0.71,"lo":-0.86},
{"p":"D","ph":"Dilation","t":-0.05,"m":-0.05,"hi":0.02,"lo":-0.12},
{"p":"D","ph":"Dilation","t":-0.025,"m":0.52,"hi":0.59,"lo":0.45},
{"p":"D","ph":"Dilation","t":0,"m":0.92,"hi":0.99,"lo":0.85},
{"p":"D","ph":"Dilation","t":0.025,"m":1.15,"hi":1.21,"lo":1.08},
{"p":"D","ph":"Dilation","t":0.05,"m":1.3,"hi":1.36,"lo":1.24},
{"p":"D","ph":"Dilation","t":0.075,"m":1.38,"hi":1.44,"lo":1.32},
{"p":"D","ph":"Dilation","t":0.1,"m":1.43,"hi":1.48,"lo":1.37},
{"p":"D","ph":"Dilation","t":0.125,"m":1.4,"hi":1.46,"lo":1.34},
{"p":"D","ph":"Dilation","t":0.15,"m":1.32,"hi":1.38,"lo":1.26},
{"p":"D","ph":"Dilation","t":0.2,"m":0.88,"hi":0.95,"lo":0.81},
{"p":"D","ph":"Dilation","t":0.25,"m":0.45,"hi":0.52,"lo":0.38},
{"p":"D","ph":"Dilation","t":0.3,"m":0.1,"hi":0.17,"lo":0.03},
{"p":"D","ph":"Dilation","t":0.35,"m":-0.25,"hi":-0.18,"lo":-0.32},
{"p":"D","ph":"Dilation","t":0.4,"m":-0.58,"hi":-0.5,"lo":-0.65},
{"p":"D","ph":"Dilation","t":0.45,"m":-0.85,"hi":-0.78,"lo":-0.92},
{"p":"D","ph":"Dilation","t":0.5,"m":-1.04,"hi":-0.98,"lo":-1.1},
{"p":"D","ph":"Constriction","t":-0.5,"m":-1.58,"hi":-1.45,"lo":-1.66},
{"p":"D","ph":"Constriction","t":-0.45,"m":-1.15,"hi":-1.08,"lo":-1.22},
{"p":"D","ph":"Constriction","t":-0.4,"m":-0.75,"hi":-0.7,"lo":-0.8},
{"p":"D","ph":"Constriction","t":-0.35,"m":-0.25,"hi":-0.21,"lo":-0.29},
{"p":"D","ph":"Constriction","t":-0.3,"m":0.3,"hi":0.34,"lo":0.26},
{"p":"D","ph":"Constriction","t":-0.25,"m":0.88,"hi":0.92,"lo":0.84},
{"p":"D","ph":"Constriction","t":-0.2,"m":1.5,"hi":1.54,"lo":1.46},
{"p":"D","ph":"Constriction","t":-0.175,"m":1.8,"hi":1.85,"lo":1.76},
{"p":"D","ph":"Constriction","t":-0.15,"m":2.07,"hi":2.14,"lo":2.0},
{"p":"D","ph":"Constriction","t":-0.125,"m":2.03,"hi":2.1,"lo":1.97},
{"p":"D","ph":"Constriction","t":-0.1,"m":1.6,"hi":1.65,"lo":1.55},
{"p":"D","ph":"Constriction","t":-0.075,"m":0.85,"hi":0.9,"lo":0.8},
{"p":"D","ph":"Constriction","t":-0.05,"m":0.05,"hi":0.12,"lo":0.0},
{"p":"D","ph":"Constriction","t":-0.025,"m":-0.55,"hi":-0.45,"lo":-0.62},
{"p":"D","ph":"Constriction","t":0,"m":-0.9,"hi":-0.65,"lo":-1.05},
{"p":"D","ph":"Constriction","t":0.025,"m":-1.1,"hi":-0.75,"lo":-1.3},
{"p":"D","ph":"Constriction","t":0.05,"m":-1.17,"hi":-0.82,"lo":-1.45},
{"p":"D","ph":"Constriction","t":0.075,"m":-1.2,"hi":-0.87,"lo":-1.53},
{"p":"D","ph":"Constriction","t":0.1,"m":-1.23,"hi":-0.9,"lo":-1.58},
{"p":"D","ph":"Constriction","t":0.125,"m":-1.15,"hi":-0.92,"lo":-1.5},
{"p":"D","ph":"Constriction","t":0.15,"m":-0.8,"hi":-0.9,"lo":-1.05},
{"p":"D","ph":"Constriction","t":0.2,"m":-0.45,"hi":-0.3,"lo":-0.9},
{"p":"D","ph":"Constriction","t":0.25,"m":-0.25,"hi":0.22,"lo":-0.74},
{"p":"D","ph":"Constriction","t":0.3,"m":0.0,"hi":0.38,"lo":-0.6},
{"p":"D","ph":"Constriction","t":0.35,"m":0.1,"hi":0.32,"lo":-0.38},
{"p":"D","ph":"Constriction","t":0.4,"m":0.17,"hi":0.16,"lo":-0.1},
{"p":"D","ph":"Constriction","t":0.45,"m":0.24,"hi":-0.02,"lo":0.3},
{"p":"D","ph":"Constriction","t":0.5,"m":0.31,"hi":-0.06,"lo":0.69}
]},
"columns": 2,
"spacing": {"row": 69, "column": 61},
"bounds": "flush",
"resolve": {"scale": {"x": "independent", "y": "independent"}, "axis": {"x": "independent", "y": "independent"}, "legend": {"strokeWidth": "independent"}},
"concat": [
{
 "width": 417, "height": 326,
 "title": {"text": "A", "dx": -47, "offset": -17},
 "layer": [
  {"data": {"values": [{"ph": "Peak"}]}, "layer": [
    {"mark": {"type": "rect", "filled": false, "cornerRadius": 15, "strokeWidth": 2.5}, "encoding": {"x": {"datum": -1.425}, "x2": {"datum": -0.93}, "y": {"datum": -1.28}, "y2": {"datum": -1.77}, "color": {"field": "ph", "type": "nominal", "scale": {"domain": ["Peak","Trough","Dilation","Constriction"], "range": ["#E62129","#23399A","#FBB217","#1EBDE3"]}, "legend": null}}},
    {"mark": {"type": "text", "fontSize": 22, "baseline": "middle"}, "encoding": {"x": {"datum": -1.178}, "y": {"datum": -1.525}, "text": {"field": "ph"}, "color": {"field": "ph", "type": "nominal", "legend": null}}}
  ]},
  {"data": {"values": [{"ph": "Dilation"}]}, "layer": [
    {"mark": {"type": "rect", "filled": false, "cornerRadius": 15, "strokeWidth": 2.5}, "encoding": {"x": {"datum": -1.425}, "x2": {"datum": -0.70}, "y": {"datum": -1.83}, "y2": {"datum": -2.35}, "color": {"field": "ph", "type": "nominal", "legend": null}}},
    {"mark": {"type": "text", "fontSize": 22, "baseline": "middle"}, "encoding": {"x": {"datum": -1.062}, "y": {"datum": -2.09}, "text": {"field": "ph"}, "color": {"field": "ph", "type": "nominal", "legend": null}}}
  ]},
  {"data": {"values": [{"ph": "Trough"}]}, "layer": [
    {"mark": {"type": "rect", "filled": false, "cornerRadius": 15, "strokeWidth": 2.5}, "encoding": {"x": {"datum": 0.824}, "x2": {"datum": 1.5}, "y": {"datum": -1.23}, "y2": {"datum": -1.77}, "color": {"field": "ph", "type": "nominal", "legend": null}}},
    {"mark": {"type": "text", "fontSize": 22, "baseline": "middle"}, "encoding": {"x": {"datum": 1.162}, "y": {"datum": -1.5}, "text": {"field": "ph"}, "color": {"field": "ph", "type": "nominal", "legend": null}}}
  ]},
  {"data": {"values": [{"ph": "Constriction"}]}, "layer": [
    {"mark": {"type": "rect", "filled": false, "cornerRadius": 15, "strokeWidth": 2.5}, "encoding": {"x": {"datum": 0.486}, "x2": {"datum": 1.5}, "y": {"datum": -1.83}, "y2": {"datum": -2.35}, "color": {"field": "ph", "type": "nominal", "legend": null}}},
    {"mark": {"type": "text", "fontSize": 22, "baseline": "middle"}, "encoding": {"x": {"datum": 0.993}, "y": {"datum": -2.09}, "text": {"field": "ph"}, "color": {"field": "ph", "type": "nominal", "legend": null}}}
  ]},
  {"transform": [{"filter": "datum.p === 'A'"}, {"fold": ["lo","hi","m"], "as": ["key","z"]}, {"calculate": "datum.key === 'm' ? 'Mean' : 'SEM'", "as": "stat"}],
   "mark": {"type": "line", "interpolate": "monotone"},
   "encoding": {
    "x": {"field": "t", "type": "quantitative", "scale": {"domain": [-1.5, 1.5], "nice": false, "zero": false}, "axis": {"values": [-1.5,-1,-0.5,0,0.5,1,1.5], "labelExpr": "toString(datum.value)", "title": null}},
    "y": {"field": "z", "type": "quantitative", "scale": {"domain": [-2.5, 2.5], "nice": false}, "axis": {"values": [-2,-1,0,1,2], "labelExpr": "toString(datum.value)", "title": "Z-score Pupil Size", "titlePadding": 4}},
    "color": {"field": "ph", "type": "nominal", "scale": {"domain": ["Peak","Trough","Dilation","Constriction"], "range": ["#E62129","#23399A","#FBB217","#1EBDE3"]}, "legend": null},
    "strokeWidth": {"field": "stat", "type": "ordinal", "scale": {"domain": ["Mean","SEM"], "range": [5, 1.3]}, "legend": {"orient": "none", "legendX": 58, "legendY": 20, "title": null, "symbolType": "stroke", "symbolSize": 484, "symbolStrokeColor": "black", "labelFontSize": 20, "labelColor": "black", "labelOffset": 8, "rowPadding": 2, "padding": 0, "labelBaseline": "middle"}},
    "detail": {"field": "key"}
   }},
  {"data": {"values": [{}]}, "mark": {"type": "rule", "color": "black", "strokeWidth": 1.5}, "encoding": {"y": {"datum": 0}}},
  {"data": {"values": [{}]}, "mark": {"type": "rule", "color": "black", "strokeWidth": 1.5}, "encoding": {"x": {"datum": 0}}},
  {"data": {"values": [{}]}, "mark": {"type": "rule", "color": "black", "strokeWidth": 2.2, "strokeCap": "square"}, "encoding": {"x": {"datum": -1.5}}},
  {"data": {"values": [{}]}, "mark": {"type": "rule", "color": "black", "strokeWidth": 2.2, "strokeCap": "square"}, "encoding": {"y": {"datum": -2.5}}},
  {"data": {"values": [{}]}, "mark": {"type": "text", "fontStyle": "italic", "fontSize": 21, "baseline": "alphabetic"}, "encoding": {"x": {"datum": -0.75}, "y": {"datum": 2.4}, "text": {"value": "rtPupilPhase"}}},
  {"data": {"values": [{}]}, "mark": {"type": "text", "fontSize": 21, "baseline": "alphabetic"}, "encoding": {"x": {"datum": 0.75}, "y": {"datum": 2.4}, "text": {"value": "Human"}}},
  {"data": {"values": [{}]}, "mark": {"type": "text", "fontStyle": "italic", "fontSize": 22, "baseline": "alphabetic", "dx": -21}, "encoding": {"x": {"datum": 0.75}, "y": {"datum": 1.93}, "text": {"value": "N"}}},
  {"data": {"values": [{}]}, "mark": {"type": "text", "fontSize": 22, "baseline": "alphabetic", "dx": 10}, "encoding": {"x": {"datum": 0.75}, "y": {"datum": 1.93}, "text": {"value": "= 8"}}}
 ]
},
{
 "width": 417, "height": 326,
 "title": {"text": "C", "dx": -47, "offset": -17},
 "layer": [
  {"transform": [{"filter": "datum.p === 'C'"}, {"fold": ["lo","hi","m"], "as": ["key","z"]}, {"calculate": "datum.key === 'm' ? 'Mean' : 'SEM'", "as": "stat"}],
   "mark": {"type": "line", "interpolate": "linear"},
   "encoding": {
    "x": {"field": "t", "type": "quantitative", "scale": {"domain": [-1.5, 1.5], "nice": false, "zero": false}, "axis": {"values": [-1.5,-1,-0.5,0,0.5,1,1.5], "labelExpr": "toString(datum.value)", "title": null}},
    "y": {"field": "z", "type": "quantitative", "scale": {"domain": [-2.5, 2.5], "nice": false}, "axis": {"values": [-2,-1,0,1,2], "labels": false, "title": null}},
    "color": {"field": "ph", "type": "nominal", "scale": {"domain": ["Peak","Trough","Dilation","Constriction"], "range": ["#E62129","#23399A","#FBB217","#1EBDE3"]}, "legend": null},
    "strokeWidth": {"field": "stat", "type": "ordinal", "scale": {"domain": ["Mean","SEM"], "range": [5, 1.3]}, "legend": null},
    "detail": {"field": "key"}
   }},
  {"data": {"values": [{}]}, "mark": {"type": "rule", "color": "black", "strokeWidth": 1.5}, "encoding": {"y": {"datum": 0}}},
  {"data": {"values": [{}]}, "mark": {"type": "rule", "color": "black", "strokeWidth": 1.5}, "encoding": {"x": {"datum": 0}}},
  {"data": {"values": [{}]}, "mark": {"type": "rule", "color": "black", "strokeWidth": 2.2, "strokeCap": "square"}, "encoding": {"x": {"datum": -1.5}}},
  {"data": {"values": [{}]}, "mark": {"type": "rule", "color": "black", "strokeWidth": 2.2, "strokeCap": "square"}, "encoding": {"y": {"datum": -2.5}}},
  {"data": {"values": [{}]}, "mark": {"type": "text", "fontStyle": "italic", "fontSize": 21, "baseline": "alphabetic"}, "encoding": {"x": {"datum": -0.75}, "y": {"datum": 2.4}, "text": {"value": "sim-rtPupilPhase"}}},
  {"data": {"values": [{}]}, "mark": {"type": "text", "fontSize": 21, "baseline": "alphabetic"}, "encoding": {"x": {"datum": 0.75}, "y": {"datum": 2.4}, "text": {"value": "Mouse"}}},
  {"data": {"values": [{}]}, "mark": {"type": "text", "fontStyle": "italic", "fontSize": 22, "baseline": "alphabetic", "dx": -21}, "encoding": {"x": {"datum": 0.75}, "y": {"datum": 1.93}, "text": {"value": "N"}}},
  {"data": {"values": [{}]}, "mark": {"type": "text", "fontSize": 22, "baseline": "alphabetic", "dx": 10}, "encoding": {"x": {"datum": 0.75}, "y": {"datum": 1.93}, "text": {"value": "= 5"}}}
 ]
},
{
 "width": 417, "height": 326,
 "title": {"text": "B", "dx": -47, "offset": -17},
 "layer": [
  {"transform": [{"filter": "datum.p === 'B'"}, {"fold": ["lo","hi","m"], "as": ["key","z"]}, {"calculate": "datum.key === 'm' ? 'Mean' : 'SEM'", "as": "stat"}],
   "mark": {"type": "line", "interpolate": "monotone"},
   "encoding": {
    "x": {"field": "t", "type": "quantitative", "scale": {"domain": [-1.5, 1.5], "nice": false, "zero": false}, "axis": {"values": [-1.5,-1,-0.5,0,0.5,1,1.5], "labelExpr": "toString(datum.value)", "title": "Time (s)", "titlePadding": 8}},
    "y": {"field": "z", "type": "quantitative", "scale": {"domain": [-2.5, 2.5], "nice": false}, "axis": {"values": [-2,-1,0,1,2], "labelExpr": "toString(datum.value)", "title": "Z-score Pupil Size", "titlePadding": 4}},
    "color": {"field": "ph", "type": "nominal", "scale": {"domain": ["Peak","Trough","Dilation","Constriction"], "range": ["#E62129","#23399A","#FBB217","#1EBDE3"]}, "legend": null},
    "strokeWidth": {"field": "stat", "type": "ordinal", "scale": {"domain": ["Mean","SEM"], "range": [5, 1.3]}, "legend": null},
    "detail": {"field": "key"}
   }},
  {"data": {"values": [{}]}, "mark": {"type": "rule", "color": "black", "strokeWidth": 1.5}, "encoding": {"y": {"datum": 0}}},
  {"data": {"values": [{}]}, "mark": {"type": "rule", "color": "black", "strokeWidth": 1.5}, "encoding": {"x": {"datum": 0}}},
  {"data": {"values": [{}]}, "mark": {"type": "rule", "color": "black", "strokeWidth": 2.2, "strokeCap": "square"}, "encoding": {"x": {"datum": -1.5}}},
  {"data": {"values": [{}]}, "mark": {"type": "rule", "color": "black", "strokeWidth": 2.2, "strokeCap": "square"}, "encoding": {"y": {"datum": -2.5}}},
  {"data": {"values": [{}]}, "mark": {"type": "text", "fontStyle": "italic", "fontSize": 21, "baseline": "alphabetic"}, "encoding": {"x": {"datum": -0.75}, "y": {"datum": 2.4}, "text": {"value": "sim-rtPupilPhase"}}},
  {"data": {"values": [{}]}, "mark": {"type": "text", "fontSize": 21, "baseline": "alphabetic"}, "encoding": {"x": {"datum": 0.75}, "y": {"datum": 2.4}, "text": {"value": "Human"}}},
  {"data": {"values": [{}]}, "mark": {"type": "text", "fontStyle": "italic", "fontSize": 22, "baseline": "alphabetic", "dx": -21}, "encoding": {"x": {"datum": 0.75}, "y": {"datum": 1.93}, "text": {"value": "N"}}},
  {"data": {"values": [{}]}, "mark": {"type": "text", "fontSize": 22, "baseline": "alphabetic", "dx": 10}, "encoding": {"x": {"datum": 0.75}, "y": {"datum": 1.93}, "text": {"value": "= 8"}}}
 ]
},
{
 "width": 417, "height": 326,
 "title": {"text": "D", "dx": -47, "offset": -17},
 "layer": [
  {"transform": [{"filter": "datum.p === 'D'"}, {"fold": ["lo","hi","m"], "as": ["key","z"]}, {"calculate": "datum.key === 'm' ? 'Mean' : 'SEM'", "as": "stat"}],
   "mark": {"type": "line", "interpolate": "monotone"},
   "encoding": {
    "x": {"field": "t", "type": "quantitative", "scale": {"domain": [-0.5, 0.5], "nice": false, "zero": false}, "axis": {"values": [-0.5,-0.25,0,0.25,0.5], "labelExpr": "toString(datum.value)", "title": "Time (s)", "titlePadding": 8}},
    "y": {"field": "z", "type": "quantitative", "scale": {"domain": [-2.5, 2.5], "nice": false}, "axis": {"values": [-2,-1,0,1,2], "labels": false, "title": null}},
    "color": {"field": "ph", "type": "nominal", "scale": {"domain": ["Peak","Trough","Dilation","Constriction"], "range": ["#E62129","#23399A","#FBB217","#1EBDE3"]}, "legend": null},
    "strokeWidth": {"field": "stat", "type": "ordinal", "scale": {"domain": ["Mean","SEM"], "range": [5, 1.3]}, "legend": null},
    "detail": {"field": "key"}
   }},
  {"data": {"values": [{}]}, "mark": {"type": "rule", "color": "black", "strokeWidth": 1.5}, "encoding": {"y": {"datum": 0}}},
  {"data": {"values": [{}]}, "mark": {"type": "rule", "color": "black", "strokeWidth": 1.5}, "encoding": {"x": {"datum": 0}}},
  {"data": {"values": [{}]}, "mark": {"type": "rule", "color": "black", "strokeWidth": 2.2, "strokeCap": "square"}, "encoding": {"x": {"datum": -0.5}}},
  {"data": {"values": [{}]}, "mark": {"type": "rule", "color": "black", "strokeWidth": 2.2, "strokeCap": "square"}, "encoding": {"y": {"datum": -2.5}}},
  {"data": {"values": [{}]}, "mark": {"type": "text", "fontStyle": "italic", "fontSize": 21, "baseline": "alphabetic"}, "encoding": {"x": {"datum": -0.25}, "y": {"datum": 2.4}, "text": {"value": "sim-rtPupilPhase"}}},
  {"data": {"values": [{}]}, "mark": {"type": "text", "fontSize": 21, "baseline": "alphabetic"}, "encoding": {"x": {"datum": 0.25}, "y": {"datum": 2.4}, "text": {"value": "Monkey"}}},
  {"data": {"values": [{}]}, "mark": {"type": "text", "fontStyle": "italic", "fontSize": 22, "baseline": "alphabetic", "dx": -21}, "encoding": {"x": {"datum": 0.25}, "y": {"datum": 1.93}, "text": {"value": "N"}}},
  {"data": {"values": [{}]}, "mark": {"type": "text", "fontSize": 22, "baseline": "alphabetic", "dx": 10}, "encoding": {"x": {"datum": 0.25}, "y": {"datum": 1.93}, "text": {"value": "= 2"}}}
 ]
}
]
}
